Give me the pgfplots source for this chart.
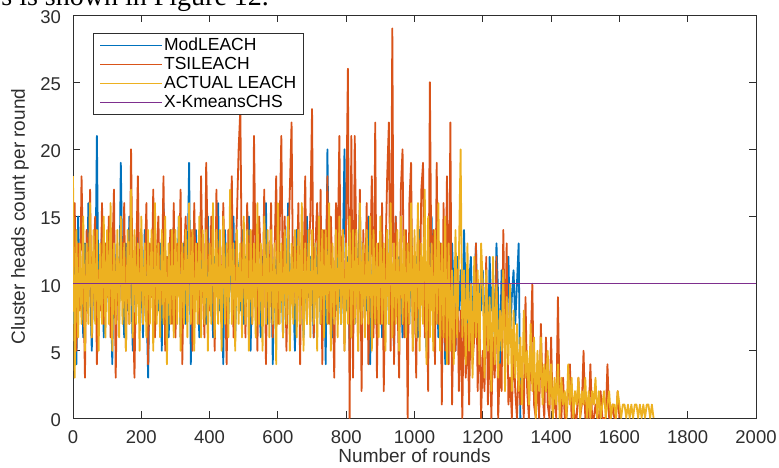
\documentclass[border=0pt]{standalone}
\usepackage{fontspec}
\setmainfont{Liberation Sans}
\newfontfamily\timesfont{Liberation Serif}
\usepackage{pgfplots}
\usepackage{pgfplotstable}
\pgfplotsset{compat=1.18}
\definecolor{mblue}{rgb}{0,0.447,0.741}
\definecolor{morange}{rgb}{0.85,0.325,0.098}
\definecolor{myellow}{rgb}{0.929,0.694,0.125}
\definecolor{mpurple}{rgb}{0.494,0.184,0.556}
\definecolor{axgray}{rgb}{0.18,0.18,0.18}

% ModLEACH, one value every 5 rounds
\pgfplotstableread[row sep=\\,header=false]{
7\\12\\4\\15\\9\\11\\6\\13\\8\\16\\10\\5\\12\\9\\21\\7\\11\\14\\6\\10\\
13\\8\\11\\4\\14\\9\\12\\7\\19\\10\\6\\13\\8\\15\\11\\5\\12\\9\\14\\7\\
11\\6\\14\\9\\3\\12\\10\\15\\7\\11\\8\\13\\5\\16\\9\\12\\6\\10\\14\\8\\
12\\9\\15\\6\\11\\13\\7\\10\\19\\4\\12\\8\\14\\10\\6\\13\\9\\11\\7\\15\\
9\\13\\6\\12\\10\\16\\8\\11\\4\\14\\10\\7\\13\\9\\15\\6\\12\\11\\8\\14\\
7\\12\\10\\15\\5\\11\\13\\8\\14\\9\\6\\12\\10\\16\\7\\11\\13\\4\\12\\9\\
14\\8\\11\\6\\13\\10\\16\\7\\12\\9\\5\\14\\11\\8\\13\\6\\10\\15\\9\\12\\
10\\6\\13\\9\\15\\7\\12\\11\\4\\20\\9\\13\\6\\11\\8\\14\\10\\7\\12\\20\\
8\\12\\5\\14\\10\\7\\13\\9\\16\\6\\11\\12\\8\\15\\4\\10\\13\\7\\11\\9\\
13\\6\\11\\9\\14\\7\\12\\10\\5\\15\\8\\12\\10\\6\\13\\9\\11\\7\\14\\10\\
9\\12\\6\\14\\10\\8\\13\\5\\11\\9\\15\\7\\12\\10\\6\\13\\8\\11\\4\\12\\
10\\7\\13\\9\\5\\12\\8\\11\\6\\14\\9\\4\\10\\12\\7\\9\\13\\6\\10\\8\\
11\\7\\9\\5\\12\\8\\10\\6\\13\\9\\4\\11\\7\\10\\8\\12\\6\\9\\11\\7\\
10\\13\\0\\
}\tmod

% TSILEACH
\pgfplotstableread[row sep=\\,header=false]{
10\\16\\5\\13\\8\\18\\11\\3\\14\\9\\17\\6\\12\\15\\4\\11\\8\\16\\7\\13\\
9\\15\\6\\12\\17\\3\\11\\8\\14\\10\\16\\5\\13\\7\\20\\9\\3\\12\\18\\8\\
14\\7\\11\\16\\4\\13\\9\\17\\6\\12\\15\\8\\10\\18\\5\\12\\9\\14\\7\\16\\
6\\13\\10\\17\\4\\12\\15\\8\\11\\14\\5\\16\\9\\13\\7\\18\\10\\6\\19\\12\\
8\\15\\11\\5\\17\\9\\13\\7\\16\\10\\4\\14\\12\\18\\6\\11\\15\\20\\23\\9\\
13\\6\\16\\10\\14\\7\\21\\11\\5\\15\\12\\8\\17\\4\\13\\9\\16\\6\\12\\18\\
7\\14\\21\\9\\15\\5\\12\\17\\22\\8\\13\\10\\16\\4\\14\\11\\18\\7\\12\\15\\
23\\6\\13\\16\\9\\17\\4\\14\\11\\18\\7\\15\\10\\3\\16\\12\\21\\8\\14\\5\\
15\\26\\0\\21\\3\\21\\12\\5\\17\\2\\14\\8\\16\\4\\11\\18\\6\\22\\3\\13\\
7\\16\\2\\12\\18\\22\\5\\29\\4\\15\\9\\3\\17\\20\\6\\14\\0\\16\\19\\5\\
12\\3\\15\\8\\17\\19\\6\\11\\2\\25\\9\\14\\4\\19\\7\\13\\1\\16\\5\\18\\
4\\22\\1\\9\\5\\11\\2\\8\\0\\10\\3\\7\\1\\9\\4\\6\\13\\2\\8\\0\\
5\\2\\12\\1\\7\\0\\6\\3\\12\\0\\4\\2\\14\\5\\13\\1\\3\\0\\6\\2\\
0\\4\\1\\3\\0\\9\\2\\0\\5\\10\\1\\0\\3\\0\\7\\2\\0\\6\\1\\0\\
6\\0\\2\\0\\9\\1\\0\\3\\0\\0\\2\\4\\0\\1\\0\\0\\3\\0\\1\\5\\
0\\1\\0\\4\\0\\0\\1\\0\\0\\2\\0\\0\\0\\4\\0\\0\\1\\0\\0\\2\\
0\\
}\ttsi

% ACTUAL LEACH
\pgfplotstableread[row sep=\\,header=false]{
18\\3\\14\\6\\13\\7\\15\\5\\13\\7\\16\\6\\14\\7\\14\\5\\13\\7\\15\\6\\
14\\7\\16\\5\\13\\7\\14\\6\\15\\7\\13\\5\\14\\7\\17\\6\\14\\7\\13\\5\\
15\\7\\13\\6\\14\\7\\14\\5\\16\\7\\13\\6\\14\\7\\15\\4\\13\\7\\14\\6\\
14\\7\\15\\5\\13\\7\\14\\6\\16\\7\\14\\5\\13\\7\\15\\6\\14\\7\\14\\5\\
13\\7\\16\\6\\14\\7\\14\\5\\15\\7\\13\\6\\17\\7\\13\\5\\14\\7\\13\\6\\
15\\7\\14\\5\\14\\7\\13\\6\\16\\7\\13\\5\\15\\7\\14\\6\\14\\7\\13\\4\\
16\\7\\13\\6\\14\\7\\15\\5\\13\\7\\14\\6\\14\\7\\16\\5\\13\\7\\14\\6\\
14\\7\\13\\5\\15\\7\\14\\6\\14\\7\\16\\5\\13\\7\\14\\6\\15\\7\\14\\5\\
13\\7\\15\\6\\14\\7\\14\\5\\16\\7\\13\\6\\14\\7\\15\\5\\14\\7\\13\\6\\
15\\7\\13\\5\\14\\7\\16\\6\\13\\7\\14\\5\\15\\7\\14\\6\\13\\7\\16\\5\\
14\\6\\16\\5\\13\\7\\17\\4\\15\\6\\13\\5\\14\\7\\16\\5\\13\\6\\15\\4\\
13\\5\\11\\4\\14\\6\\12\\20\\6\\11\\4\\13\\5\\10\\3\\12\\6\\11\\4\\13\\
10\\3\\11\\5\\9\\2\\12\\4\\10\\3\\8\\5\\11\\2\\9\\4\\10\\2\\8\\3\\
7\\2\\6\\1\\8\\3\\5\\1\\7\\2\\6\\0\\5\\2\\6\\1\\4\\2\\5\\1\\
4\\0\\3\\1\\4\\0\\3\\1\\2\\0\\4\\1\\3\\0\\2\\1\\3\\0\\2\\1\\
3\\0\\2\\0\\2\\1\\3\\0\\2\\0\\1\\2\\0\\1\\2\\0\\1\\1\\0\\2\\
1\\0\\1\\1\\0\\1\\0\\1\\0\\1\\1\\0\\1\\0\\1\\0\\1\\1\\0\\1\\
0\\
}\tact

\begin{document}
\begin{tikzpicture}
\begin{axis}[
  at={(0,0)}, anchor=south west,
  scale only axis, width=341.5pt, height=201.5pt,
  xmin=0, xmax=2000, ymin=0, ymax=30,
  xtick={0,200,...,2000}, ytick={0,5,...,30},
  tick align=inside, xtick pos=both, ytick pos=both,
  major tick length=3.5pt,
  axis line style={axgray, line width=0.5pt},
  every tick/.style={axgray, line width=0.5pt},
  tick label style={font=\fontsize{9.25}{10}\selectfont, text=axgray},
  /pgf/number format/assume math mode=true,
  /pgf/number format/1000 sep={},
  scaled x ticks=false,
  xticklabel style={yshift=-3pt},
  yticklabel style={xshift=-2.5pt, yshift=-1pt},
  xlabel={Number of rounds}, ylabel={Cluster heads count per round},
  label style={font=\fontsize{9.5}{10}\selectfont, text=axgray},
  xlabel style={at={(axis description cs:0.5,-0.0943)}, anchor=center},
  ylabel style={at={(axis description cs:-0.0776,0.5)}, anchor=center},
  legend cell align=left,
  legend image code/.code={\draw[#1, line width=0.5pt] (0pt,0pt) -- (31pt,0pt);},
  legend style={at={(axis description cs:0.0293,0.9553)}, anchor=north west,
    draw=axgray, line width=0.5pt, fill=white,
    font=\fontsize{8.75}{9}\selectfont,
    inner xsep=3pt, inner ysep=1pt, row sep=0pt,
    nodes={inner sep=0.8pt, text height=6.5pt, text depth=1.5pt}},
  every axis plot/.append style={line width=0.9pt, line join=round},
]
\addplot[mblue] table[x expr=\coordindex*5, y index=0] {\tmod};
\addplot[morange] table[x expr=\coordindex*5, y index=0] {\ttsi};
\addplot[myellow] table[x expr=\coordindex*5, y index=0] {\tact};
\addplot[mpurple, line width=0.7pt] coordinates {(0,10) (2000,10)};
\legend{ModLEACH,TSILEACH,ACTUAL LEACH,X-KmeansCHS}
\end{axis}
\node[anchor=base west, inner sep=0pt, text depth=0pt, font=\timesfont\fontsize{14}{16}\selectfont] at (-36pt,206pt) {s is shown in Figure 12.};
\pgfresetboundingbox
\useasboundingbox (-36.5pt,-24.5pt) rectangle (353pt,209pt);
\end{tikzpicture}
\end{document}
